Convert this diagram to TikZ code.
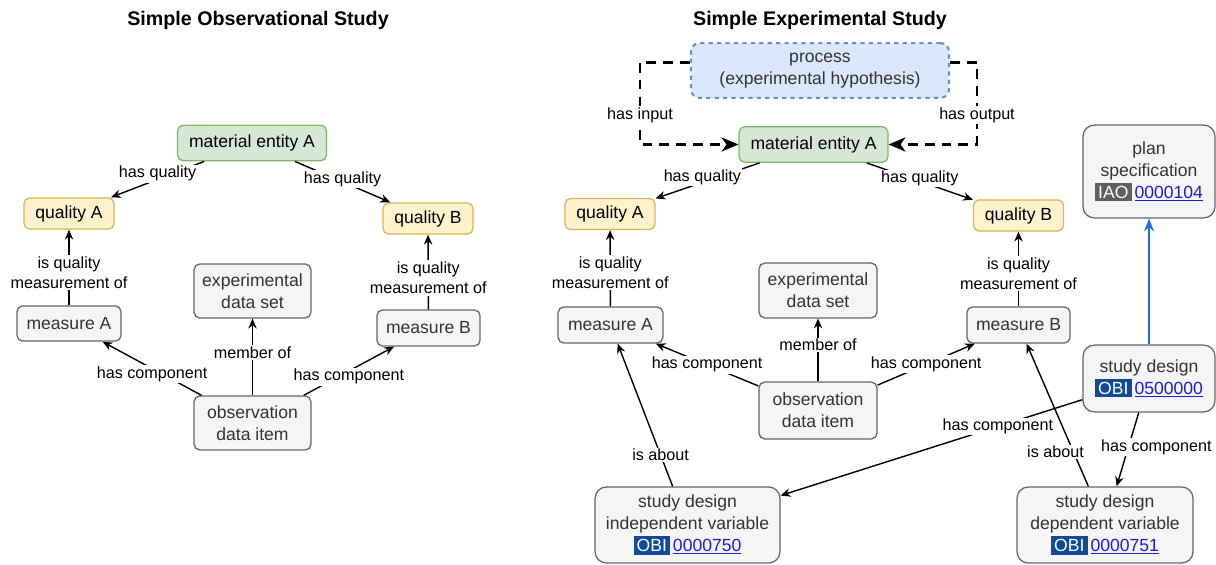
\documentclass[tikz,border=0pt]{standalone}
\usepackage{fontspec}
\setmainfont{Liberation Sans}
\usepackage{xcolor}
\usetikzlibrary{arrows.meta}

\definecolor{boxfill}{HTML}{F5F5F5}
\definecolor{boxline}{HTML}{666666}
\definecolor{boxtext}{HTML}{333333}
\definecolor{greenfill}{HTML}{D5E8D4}
\definecolor{greenline}{HTML}{82B366}
\definecolor{yellowfill}{HTML}{FFF2CC}
\definecolor{yellowline}{HTML}{D6B656}
\definecolor{bluefill}{HTML}{DAE8FC}
\definecolor{blueline}{HTML}{6C8EBF}
\definecolor{obiblue}{HTML}{114A96}
\definecolor{iaogray}{HTML}{5F5F5F}
\definecolor{linkblue}{HTML}{1C1CD6}
\definecolor{planblue}{HTML}{1E6FD9}

\newcommand{\boxfont}{\fontsize{12.5}{15.5}\selectfont}
\newcommand{\lblfont}{\fontsize{11.5}{14.5}\selectfont}
\newcommand{\titlefont}{\fontsize{14}{16}\selectfont\bfseries}
\newcommand{\ontid}[3]{{\setlength{\fboxsep}{2.2pt}\colorbox{#1}{\color{white}#2}}\,\textcolor{linkblue}{\underline{#3}}}

\begin{document}
\begin{tikzpicture}[x=0.25cm,y=-0.25cm,
  graybox/.style={draw=boxline,fill=boxfill,rounded corners=4pt,text=boxtext,align=center,font=\boxfont,line width=0.9pt,inner sep=2pt},
  matbox/.style={graybox,draw=greenline,fill=greenfill,text=black,minimum width=3.72cm,minimum height=0.89cm},
  qualbox/.style={graybox,draw=yellowline,fill=yellowfill,text=black,minimum width=2.25cm,minimum height=0.78cm},
  procbox/.style={graybox,draw=blueline,fill=bluefill,dashed,line width=1.5pt,rounded corners=6pt,minimum width=6.45cm,minimum height=1.37cm},
  idbox/.style={graybox,rounded corners=8pt},
  lbl/.style={fill=white,inner sep=1pt,align=center,font=\lblfont},
  rel/.style={-{Stealth[length=7pt,width=6pt]},line width=1pt},
  dashrel/.style={-{Stealth[length=12pt,width=10pt,inset=3.5pt]},line width=2pt,dash pattern=on 7pt off 5pt},
  planrel/.style={-{Stealth[length=9pt,width=7pt]},line width=2pt,draw=planblue}]
\useasboundingbox (0,0) rectangle (121.6,56.5);

% titles
\node[font=\titlefont] (titleL) at (25.8,2) {Simple Observational Study};
\node[font=\titlefont] (titleR) at (82,2) {Simple Experimental Study};

% observational study
\node[matbox] (matL) at (25.2,14.3) {material entity A};
\node[qualbox] (qaL) at (6.9,21.35) {quality A};
\node[qualbox] (qbL) at (42.8,21.85) {quality B};
\node[graybox,minimum width=2.6cm,minimum height=0.88cm] (maL) at (6.9,32.35) {measure A};
\node[graybox,minimum width=2.58cm,minimum height=0.9cm] (mbL) at (42.85,32.8) {measure B};
\node[graybox,minimum width=2.92cm,minimum height=1.35cm] (dsL) at (25.25,29.1) {experimental\\data set};
\node[graybox,minimum width=2.92cm,minimum height=1.35cm] (obL) at (25.25,42.3) {observation\\data item};

\draw[rel] (matL) -- node[lbl,yshift=4pt]{has quality} (qaL);
\draw[rel] (matL) -- node[lbl,yshift=2pt]{has quality} (qbL);
\draw[rel] (maL) -- node[lbl,pos=.43]{is quality\\measurement of} (qaL);
\draw[rel] (mbL) -- node[lbl,pos=.42]{is quality\\measurement of} (qbL);
\draw[rel] (obL) -- node[lbl,yshift=-4pt]{has component} (maL);
\draw[rel] (obL) -- node[lbl,yshift=-4pt]{has component} (mbL);
\draw[rel] (obL) -- node[lbl,pos=.56]{member of} (dsL);

% experimental study
\node[procbox] (proc) at (82,7.05) {process\\(experimental hypothesis)};
\node[matbox] (matR) at (81.35,14.45) {material entity A};
\node[qualbox] (qaR) at (61,21.4) {quality A};
\node[qualbox] (qbR) at (101.85,21.55) {quality B};
\node[graybox,minimum width=2.62cm,minimum height=0.9cm] (maR) at (61.05,32.5) {measure A};
\node[graybox,minimum width=2.58cm,minimum height=0.9cm] (mbR) at (101.85,32.5) {measure B};
\node[graybox,minimum width=2.95cm,minimum height=1.37cm] (dsR) at (81.8,29.05) {experimental\\data set};
\node[graybox,minimum width=2.95cm,minimum height=1.42cm] (obR) at (81.8,41.05) {observation\\data item};
\node[idbox,minimum width=3.3cm,minimum height=2.32cm] (plan) at (114.9,17.15) {plan\\specification\\\ontid{iaogray}{IAO}{0000104}};
\node[idbox,minimum width=3.3cm,minimum height=1.67cm] (design) at (114.9,37.85) {study design\\\ontid{obiblue}{OBI}{0500000}};
\node[idbox,minimum width=4.62cm,minimum height=1.9cm] (indep) at (68.75,52.5) {study design\\independent variable\\\ontid{obiblue}{OBI}{0000750}};
\node[idbox,minimum width=4.4cm,minimum height=1.9cm] (dep) at (110.5,52.5) {study design\\dependent variable\\\ontid{obiblue}{OBI}{0000751}};
\coordinate (inL) at (64,14.45);
\coordinate (outR) at (97.7,14.45);

\draw[dashrel] ([yshift=2.1mm]proc.west) -| (inL) node[lbl,pos=.82]{has input} -- (matR);
\draw[dashrel] ([yshift=2.1mm]proc.east) -| (outR) node[lbl,pos=.82]{has output} -- (matR);
\draw[rel] (matR) -- node[lbl,pos=.55,yshift=4pt]{has quality} (qaR);
\draw[rel] (matR) -- node[lbl,yshift=2pt]{has quality} (qbR);
\draw[rel] (maR) -- node[lbl,pos=.44]{is quality\\measurement of} (qaR);
\draw[rel] (mbR) -- node[lbl,pos=.44]{is quality\\measurement of} (qbR);
\draw[rel] (obR) -- node[lbl]{has component} (maR);
\draw[rel] (obR) -- node[lbl]{has component} (mbR);
\draw[rel] (obR) -- node[lbl,pos=.58]{member of} (dsR);
\draw[rel] (indep) -- node[lbl,pos=.22]{is about} (maR);
\draw[rel] (design) -- node[lbl,pos=.28]{has component} (indep);
\draw[rel] (dep) -- node[lbl,pos=.24,xshift=-4.5mm]{is about} (mbR);
\draw[rel] (design) -- node[lbl,pos=.47,xshift=7mm]{has component} (dep);
\draw[planrel] (design) -- (plan);
\end{tikzpicture}
\end{document}
